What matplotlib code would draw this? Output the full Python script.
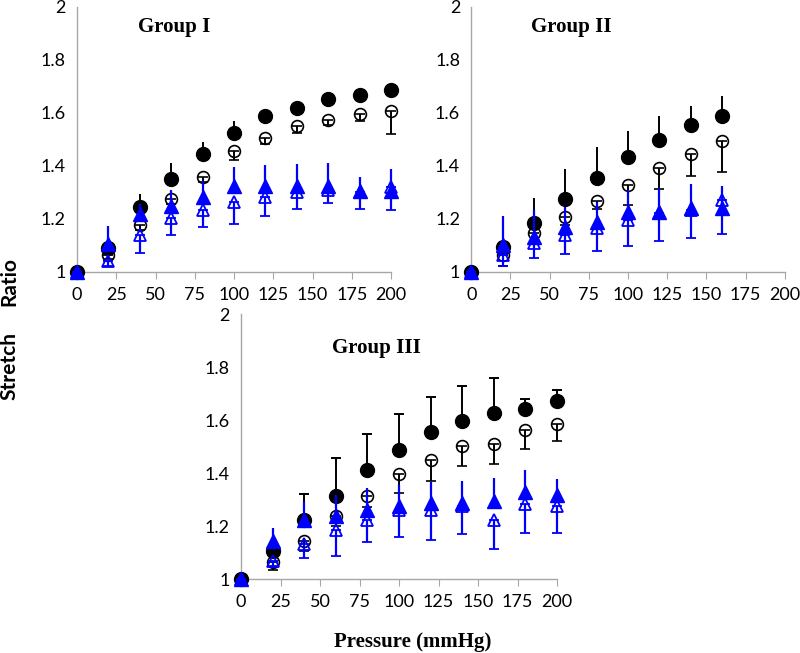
import matplotlib
matplotlib.use("Agg")
import matplotlib.pyplot as plt

# ---- data (stretch ratio vs pressure, mean and one-sided SD) ----
pressure_long = [0, 20, 40, 60, 80, 100, 120, 140, 160, 180, 200]
pressure_short = [0, 20, 40, 60, 80, 100, 120, 140, 160]

# Group I
g1_fc = [1.00, 1.090, 1.244, 1.350, 1.446, 1.526, 1.587, 1.619, 1.652, 1.666, 1.688]
g1_fc_err = [0, 0.020, 0.052, 0.063, 0.043, 0.043, 0.027, 0.010, 0.010, 0.010, 0.010]
g1_oc = [1.00, 1.064, 1.178, 1.275, 1.359, 1.457, 1.506, 1.550, 1.572, 1.598, 1.607]
g1_oc_err = [0, 0.015, 0.020, 0.020, 0.020, 0.035, 0.024, 0.025, 0.018, 0.029, 0.086]
g1_ft = [1.00, 1.105, 1.217, 1.248, 1.283, 1.324, 1.323, 1.323, 1.323, 1.307, 1.305]
g1_ft_err = [0, 0.068, 0.040, 0.060, 0.060, 0.073, 0.081, 0.085, 0.087, 0.053, 0.084]
g1_ot = [1.00, 1.042, 1.140, 1.203, 1.234, 1.265, 1.284, 1.303, 1.310, 1.300, 1.322]
g1_ot_err = [0, 0.020, 0.070, 0.063, 0.063, 0.084, 0.073, 0.066, 0.051, 0.063, 0.088]

# Group II
g2_fc = [1.00, 1.093, 1.183, 1.274, 1.356, 1.432, 1.499, 1.554, 1.589]
g2_fc_err = [0, 0.020, 0.098, 0.113, 0.116, 0.101, 0.089, 0.072, 0.074]
g2_oc = [1.00, 1.064, 1.146, 1.209, 1.269, 1.330, 1.391, 1.447, 1.494]
g2_oc_err = [0, 0.041, 0.030, 0.030, 0.030, 0.077, 0.078, 0.084, 0.118]
g2_ft = [1.00, 1.102, 1.133, 1.171, 1.190, 1.228, 1.228, 1.240, 1.240]
g2_ft_err = [0, 0.109, 0.100, 0.075, 0.075, 0.080, 0.088, 0.092, 0.085]
g2_ot = [1.00, 1.064, 1.109, 1.140, 1.165, 1.196, 1.222, 1.234, 1.272]
g2_ot_err = [0, 0.041, 0.055, 0.073, 0.085, 0.098, 0.104, 0.107, 0.127]

# Group III
g3_fc = [1.00, 1.106, 1.224, 1.314, 1.411, 1.486, 1.553, 1.597, 1.628, 1.642, 1.673]
g3_fc_err = [0, 0.020, 0.098, 0.144, 0.136, 0.136, 0.133, 0.131, 0.130, 0.038, 0.040]
g3_oc = [1.00, 1.063, 1.144, 1.239, 1.312, 1.398, 1.448, 1.503, 1.509, 1.562, 1.584]
g3_oc_err = [0, 0.028, 0.038, 0.040, 0.040, 0.073, 0.078, 0.076, 0.076, 0.071, 0.063]
g3_ft = [1.00, 1.142, 1.222, 1.237, 1.262, 1.275, 1.288, 1.288, 1.293, 1.329, 1.316]
g3_ft_err = [0, 0.051, 0.070, 0.080, 0.080, 0.080, 0.078, 0.081, 0.090, 0.082, 0.061]
g3_ot = [1.00, 1.068, 1.134, 1.184, 1.222, 1.259, 1.259, 1.275, 1.224, 1.282, 1.276]
g3_ot_err = [0, 0.020, 0.055, 0.098, 0.083, 0.100, 0.113, 0.104, 0.109, 0.108, 0.101]

x_ticks = [0, 25, 50, 75, 100, 125, 150, 175, 200]
y_ticks = [1, 1.2, 1.4, 1.6, 1.8, 2]
y_ticklabels = ["1", "1.2", "1.4", "1.6", "1.8", "2"]

BLUE = "#0000ff"
GRAY = "#a6a6a6"
TICK_FONT = "Lato"
SERIF = "Liberation Serif"


def draw_panel(ax, x, fc, fc_err, oc, oc_err, ft, ft_err, ot, ot_err,
               title, title_pos, fc_caps=0):
    zeros = [0] * len(x)
    # filled circles: error upward
    ax.errorbar(x, fc, yerr=[zeros, fc_err], fmt="o", color="black",
                ms=10, elinewidth=1.4, capsize=fc_caps, capthick=1.4,
                clip_on=False, zorder=3)
    # open circles: error downward
    ax.errorbar(x, oc, yerr=[oc_err, zeros], fmt="o", mfc="none", mec="black",
                mew=1.2, color="black", ms=8.5, elinewidth=1.4, capsize=3.5,
                capthick=1.4, clip_on=False, zorder=4)
    # filled triangles: error upward
    ax.errorbar(x, ft, yerr=[zeros, ft_err], fmt="^", color=BLUE,
                ms=10.5, elinewidth=1.6, capsize=0, clip_on=False, zorder=5)
    # open triangles: error downward
    ax.errorbar(x, ot, yerr=[ot_err, zeros], fmt="^", mfc="none", mec=BLUE,
                mew=1.3, color=BLUE, ms=9, elinewidth=1.6, capsize=3.5,
                capthick=1.6, clip_on=False, zorder=6)

    ax.set_xlim(0, 200)
    ax.set_ylim(1, 2)
    ax.set_xticks(x_ticks)
    ax.set_yticks(y_ticks)
    ax.set_yticklabels(y_ticklabels)
    for s in ["top", "right"]:
        ax.spines[s].set_visible(False)
    for s in ["left", "bottom"]:
        ax.spines[s].set_color(GRAY)
        ax.spines[s].set_linewidth(1.0)
    ax.tick_params(axis="x", direction="out", length=5, color=GRAY,
                   labelsize=13, pad=6)
    ax.tick_params(axis="y", length=0, labelsize=13, pad=8)
    for lab in ax.get_xticklabels() + ax.get_yticklabels():
        lab.set_fontfamily(TICK_FONT)
    ax.text(title_pos[0], title_pos[1], title, transform=ax.transAxes,
            ha="center", va="center", fontsize=15, fontweight="bold",
            family=SERIF)


fig = plt.figure(figsize=(8.0, 6.53), dpi=100)

ax1 = fig.add_axes([0.09625, 0.5835, 0.3925, 0.4058])
ax2 = fig.add_axes([0.589, 0.5835, 0.392, 0.4058])
ax3 = fig.add_axes([0.30125, 0.1133, 0.395, 0.4058])

draw_panel(ax1, pressure_long, g1_fc, g1_fc_err, g1_oc, g1_oc_err,
           g1_ft, g1_ft_err, g1_ot, g1_ot_err, "Group I", (0.31, 0.925))
draw_panel(ax2, pressure_short, g2_fc, g2_fc_err, g2_oc, g2_oc_err,
           g2_ft, g2_ft_err, g2_ot, g2_ot_err, "Group II", (0.318, 0.925))
draw_panel(ax3, pressure_long, g3_fc, g3_fc_err, g3_oc, g3_oc_err,
           g3_ft, g3_ft_err, g3_ot, g3_ot_err, "Group III", (0.43, 0.87),
           fc_caps=3.5)

# y label is split in the original, with a wide gap between the words
fig.text(0.012, 1 - 281 / 653, "Ratio", rotation=90, ha="center", va="center",
         fontsize=15, fontweight="bold", family=TICK_FONT)
fig.text(0.012, 1 - 366 / 653, "Stretch", rotation=90, ha="center", va="center",
         fontsize=15, fontweight="bold", family=TICK_FONT)
fig.text(0.516, 0.017, "Pressure (mmHg)", ha="center", va="center",
         fontsize=15, fontweight="bold", family=SERIF)

fig.savefig("out.png", dpi=100)
